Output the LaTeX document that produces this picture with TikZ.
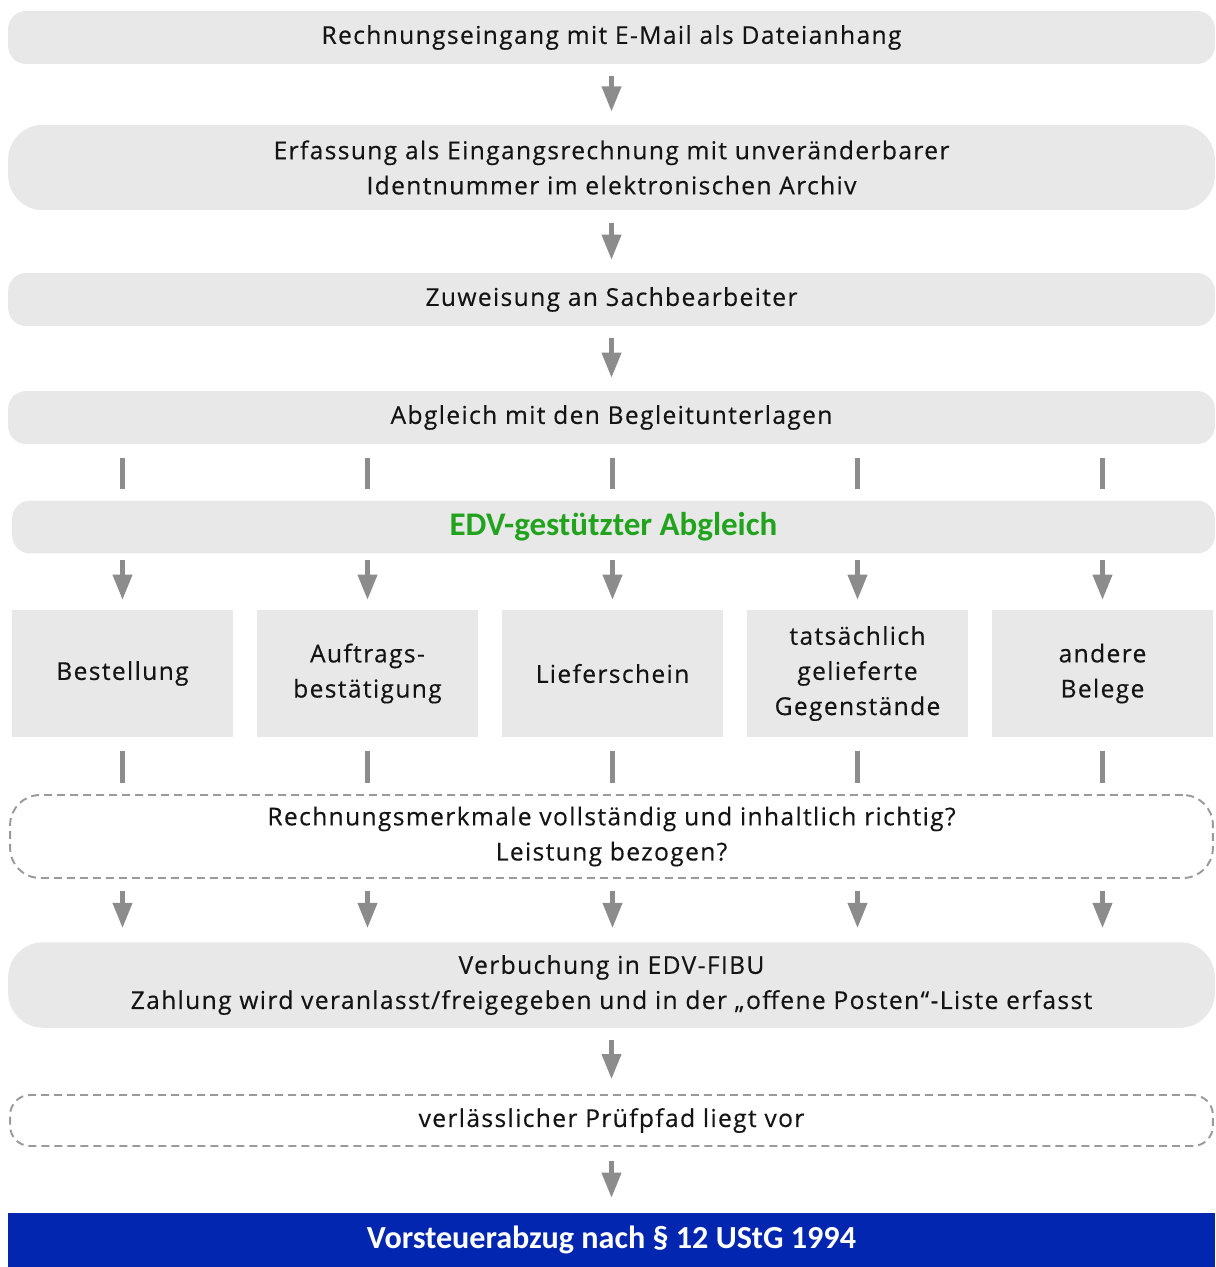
\documentclass[tikz,border=0pt]{standalone}
\usepackage{fontspec}
\setmainfont[LetterSpace=5.5,FakeBold=0.35]{Open Sans}
\newfontfamily\calibri{Carlito}
\usepackage{xcolor}
\usetikzlibrary{arrows.meta,calc}
\definecolor{boxgrey}{HTML}{E8E8E8}
\definecolor{arrowgrey}{HTML}{8C8C8C}
\definecolor{dashgrey}{HTML}{9A9A9A}
\definecolor{edvgreen}{HTML}{22A31E}
\definecolor{ustgblue}{HTML}{0226AF}
\definecolor{textdark}{HTML}{141414}

\begin{document}
\begin{tikzpicture}[x=0.02cm,y=-0.02cm,
	font=\fontsize{14}{20}\selectfont,
	stepbar/.style={fill=boxgrey,text=textdark,minimum width=24.14cm,minimum height=1.06cm,
		rounded corners=0.36cm,inner sep=0pt,align=center},
	tallbar/.style={stepbar,minimum height=1.71cm,rounded corners=0.7cm},
	docbox/.style={fill=boxgrey,text=textdark,minimum width=4.42cm,minimum height=2.54cm,
		inner sep=0pt,align=center},
	checkbar/.style={draw=dashgrey,line width=1.1pt,dash pattern=on 0.16cm off 0.1cm,
		text=textdark,minimum width=24.06cm,inner sep=0pt,align=center},
	flow/.style={draw=arrowgrey,line width=2.3pt,-{Triangle[width=0.38cm,length=0.5cm]},
		shorten <=0.24cm,shorten >=0.26cm},
	tick/.style={draw=arrowgrey,line width=2.3pt,shorten <=0.27cm,shorten >=0.22cm}]
	\useasboundingbox (0,0) rectangle (1215,1267);
	% upper chain
	\node[stepbar] (eingang) at (611.5,37.5) {Rechnungseingang mit E-Mail als Dateianhang};
	\node[tallbar] (erfassung) at (611.5,167.5) {Erfassung als Eingangsrechnung mit unveränderbarer\\Identnummer im elektronischen Archiv};
	\node[stepbar] (zuweisung) at (611.5,299.5) {Zuweisung an Sachbearbeiter};
	\node[stepbar] (abgleich) at (611.5,417.5) {Abgleich mit den Begleitunterlagen};
	\node[stepbar,minimum width=24.06cm,font=\calibri\bfseries\fontsize{18.8}{20}\selectfont,text=edvgreen] (edv) at (613.5,527) {EDV-gestützter Abgleich};
	\draw[flow] (eingang) -- (erfassung);
	\draw[flow] (erfassung) -- (zuweisung);
	\draw[flow] (zuweisung) -- (abgleich);
	% documents
	\node[docbox] (bestellung) at (122.5,673.5) {Bestellung};
	\node[docbox] (auftrag) at (367.5,673.5) {Auftrags-\\bestätigung};
	\node[docbox] (lieferschein) at (612.5,673.5) {Lieferschein};
	\node[docbox] (gegenstaende) at (857.5,673.5) {tatsächlich\\gelieferte\\Gegenstände};
	\node[docbox] (belege) at (1102.5,673.5) {andere\\Belege};
	\node[checkbar,minimum height=1.66cm,rounded corners=0.6cm] (pruefung) at (611.5,836.5) {Rechnungsmerkmale vollständig und inhaltlich richtig?\\Leistung bezogen?};
	\foreach \d in {bestellung,auftrag,lieferschein,gegenstaende,belege}{
		\draw[tick] (\d |- abgleich.south) -- (\d |- edv.north);
		\draw[flow,shorten <=0.12cm,shorten >=0.2cm] (\d |- edv.south) -- (\d);
		\draw[tick] (\d) -- (\d |- pruefung.north);
	}
	% lower chain
	\node[tallbar] (verbuchung) at (611.5,985) {Verbuchung in EDV-FIBU\\Zahlung wird veranlasst/freigegeben und in der „offene Posten“-Liste erfasst};
	\foreach \d in {bestellung,auftrag,lieferschein,gegenstaende,belege}
		\draw[flow,shorten >=0.28cm] (\d |- pruefung.south) -- (\d |- verbuchung.north);
	\node[checkbar,minimum height=1.02cm,rounded corners=0.4cm] (pruefpfad) at (611.5,1120.5) {verlässlicher Prüfpfad liegt vor};
	\node[fill=ustgblue,text=white,minimum width=24.14cm,minimum height=1.08cm,inner sep=0pt,
		font=\calibri\bfseries\fontsize{18.3}{22}\selectfont] (vorsteuer) at (611.5,1240) {Vorsteuerabzug nach § 12 UStG 1994};
	\draw[flow,shorten >=0.3cm] (verbuchung) -- (pruefpfad);
	\draw[flow,shorten <=0.28cm,shorten >=0.3cm] (pruefpfad) -- (vorsteuer);
\end{tikzpicture}
\end{document}
